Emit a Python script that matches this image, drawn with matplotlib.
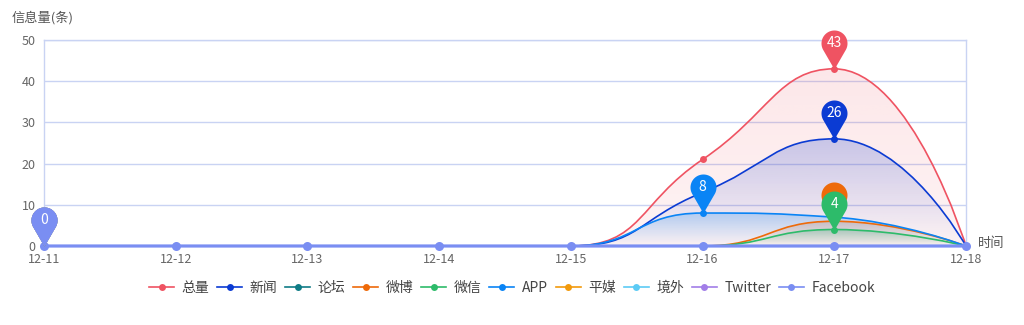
import numpy as np
import matplotlib
matplotlib.use("Agg")
import matplotlib.pyplot as plt
from matplotlib.path import Path
from matplotlib.patches import PathPatch
from matplotlib.lines import Line2D

plt.rcParams['font.family'] = ['Noto Sans CJK SC', 'DejaVu Sans']

dates = ['12-11', '12-12', '12-13', '12-14', '12-15', '12-16', '12-17', '12-18']
series_names = ['总量', '新闻', '论坛', '微博', '微信', 'APP', '平媒', '境外', 'Twitter', 'Facebook']
total    = [0, 0, 0, 0, 0, 21, 43, 0]
news     = [0, 0, 0, 0, 0, 13, 26, 0]
forum    = [0, 0, 0, 0, 0, 0, 0, 0]
weibo    = [0, 0, 0, 0, 0, 0, 6, 0]
wechat   = [0, 0, 0, 0, 0, 0, 4, 0]
app      = [0, 0, 0, 0, 0, 8, 7, 0]
press    = [0, 0, 0, 0, 0, 0, 0, 0]
overseas = [0, 0, 0, 0, 0, 0, 0, 0]
twitter  = [0, 0, 0, 0, 0, 0, 0, 0]
facebook = [0, 0, 0, 0, 0, 0, 0, 0]
values = [total, news, forum, weibo, wechat, app, press, overseas, twitter, facebook]
colors = ['#ef5362', '#0b3bd3', '#0f7c86', '#ee6a0a', '#2dbb6a', '#0a84f5',
          '#f29a0c', '#5ccbf5', '#a27ee8', '#7a8ef2']
area_alpha = [(0.14, 0.07), (0.22, 0.0), None, (0.22, 0.0), (0.25, 0.0), (0.25, 0.0),
              None, None, None, None]
# label of the 微博 pin is hidden behind the 微信 pin in the original
show_pin_label = [True, True, True, False, True, True, True, True, True, True]

W, H = 1024, 325
fig = plt.figure(figsize=(W / 100, H / 100), dpi=100)
ax = fig.add_axes([44 / W, 1 - 246 / H, (966 - 44) / W, (246 - 40) / H])
ax.set_xlim(0, len(dates) - 1)
ax.set_ylim(0, 50)
fig.canvas.draw()

grid_c = '#c9d3f3'
ax.set_yticks([0, 10, 20, 30, 40, 50])
ax.set_xticks(range(len(dates)))
ax.set_xticklabels(dates)
ax.tick_params(axis='both', length=0, labelsize=9, colors='#666666')
ax.tick_params(axis='x', pad=5)
ax.tick_params(axis='y', pad=6)
for lbl in ax.get_yticklabels():
    lbl.set_verticalalignment('center_baseline')
ax.grid(axis='y', color=grid_c, linewidth=1)
for s in ax.spines.values():
    s.set_color(grid_c)
    s.set_linewidth(1)
ax.spines['bottom'].set_visible(False)
ax.set_axisbelow(True)


def smooth_path(xs, ys, smooth=0.5):
    pts = ax.transData.transform(np.column_stack([xs, ys]))
    n = len(pts)
    verts = [tuple(pts[0])]
    codes = [Path.MOVETO]
    cp0 = pts[0].copy()
    for i in range(1, n):
        x, y = pts[i]
        px, py = pts[i - 1]
        if i == n - 1:
            cp1 = np.array([x, y])
            ncp0 = None
        else:
            nx, ny = pts[i + 1]
            vx, vy = nx - px, ny - py
            lp = np.hypot(x - px, y - py)
            ln = np.hypot(nx - x, ny - y)
            r = ln / (ln + lp)
            ncx = x + vx * smooth * r
            ncy = y + vy * smooth * r
            ncx = min(ncx, max(nx, x)); ncy = min(ncy, max(ny, y))
            ncx = max(ncx, min(nx, x)); ncy = max(ncy, min(ny, y))
            vx, vy = ncx - x, ncy - y
            c1x = x - vx * lp / ln
            c1y = y - vy * lp / ln
            c1x = min(c1x, max(px, x)); c1y = min(c1y, max(py, y))
            c1x = max(c1x, min(px, x)); c1y = max(c1y, min(py, y))
            vx, vy = x - c1x, y - c1y
            ncp0 = np.array([x + vx * ln / lp, y + vy * ln / lp])
            cp1 = np.array([c1x, c1y])
        verts += [tuple(cp0), tuple(cp1), (x, y)]
        codes += [Path.CURVE4] * 3
        cp0 = ncp0
    dv = ax.transData.inverted().transform(np.array(verts))
    return dv, codes


xs = np.arange(len(dates))

# area fills with vertical gradient
for k, (vals, col, aa) in enumerate(zip(values, colors, area_alpha)):
    if aa is None or max(vals) == 0:
        continue
    dv, codes = smooth_path(xs, vals)
    verts = list(map(tuple, dv)) + [(xs[-1], 0), (xs[0], 0), (xs[0], 0)]
    codes2 = codes + [Path.LINETO, Path.LINETO, Path.CLOSEPOLY]
    patch = PathPatch(Path(verts, codes2), facecolor='none', edgecolor='none')
    ax.add_patch(patch)
    rgb = matplotlib.colors.to_rgb(col)
    ymax = max(vals)
    grad = np.zeros((100, 2, 4))
    grad[..., :3] = rgb
    a = np.linspace(aa[0], aa[1], 100)
    grad[..., 3] = a[:, None]
    im = ax.imshow(grad, extent=(xs[0], xs[-1], 0, ymax), origin='upper',
                   aspect='auto', zorder=1 + k * 0.01, interpolation='bilinear')
    im.set_clip_path(patch)

ax.set_xlim(0, len(dates) - 1)
ax.set_ylim(0, 50)

# lines and dots
for k, (vals, col) in enumerate(zip(values, colors)):
    dv, codes = smooth_path(xs, vals)
    lw = 2.3 if series_names[k] == 'Facebook' else 1.2
    ms = 6.5 if series_names[k] == 'Facebook' else 5
    ax.add_patch(PathPatch(Path(dv, codes), facecolor='none', edgecolor=col,
                           linewidth=lw, zorder=3 + k * 0.01, clip_on=False))
    ax.plot(xs, vals, linestyle='none', marker='o', markersize=ms, color=col,
            markeredgewidth=0, zorder=3.005 + k * 0.01, clip_on=False)

# pin marker shape
d, r = 2.0, 1.0
alpha = np.arccos(r / d)
t = np.linspace(-np.pi / 2 + alpha, 3 * np.pi / 2 - alpha, 60)
arc = np.column_stack([r * np.cos(t), d + r * np.sin(t)])
pin_verts = np.vstack([[0, 0], arc, [0, 0]])
pin_codes = [Path.MOVETO] + [Path.LINETO] * len(arc) + [Path.CLOSEPOLY]
pin_path = Path(pin_verts, pin_codes)
pin_h_px = 39
ms_pin = 2 * pin_h_px * 72 / 100
center_off_pt = pin_h_px * d / (d + r) * 72 / 100

for k, (vals, col) in enumerate(zip(values, colors)):
    m = max(vals)
    i = vals.index(m)
    ax.plot([xs[i]], [m], marker=pin_path, markersize=ms_pin, color=col,
            markeredgewidth=0, linestyle='none', zorder=6 + k * 0.02, clip_on=False)
    if show_pin_label[k]:
        ax.annotate(str(m), (xs[i], m), xytext=(0, center_off_pt), textcoords='offset points',
                    ha='center', va='center', color='white', fontsize=10,
                    zorder=6.01 + k * 0.02, annotation_clip=False)

fig.text(12 / W, 1 - 18 / H, '信息量(条)', fontsize=9.5, color='#555555', ha='left', va='center')
fig.text(978 / W, 1 - 244 / H, '时间', fontsize=9.5, color='#555555', ha='left', va='center')

handles = [Line2D([0], [0], color=c, marker='o', markersize=5, linewidth=1.2,
                  markeredgewidth=0) for c in colors]
fig.legend(handles, series_names, loc='center', bbox_to_anchor=(512 / W, 1 - 288 / H),
           ncol=10, frameon=False, fontsize=10, handlelength=1.8, handletextpad=0.55,
           columnspacing=0.55, labelcolor='#444444')

fig.savefig('out.png', dpi=100)
